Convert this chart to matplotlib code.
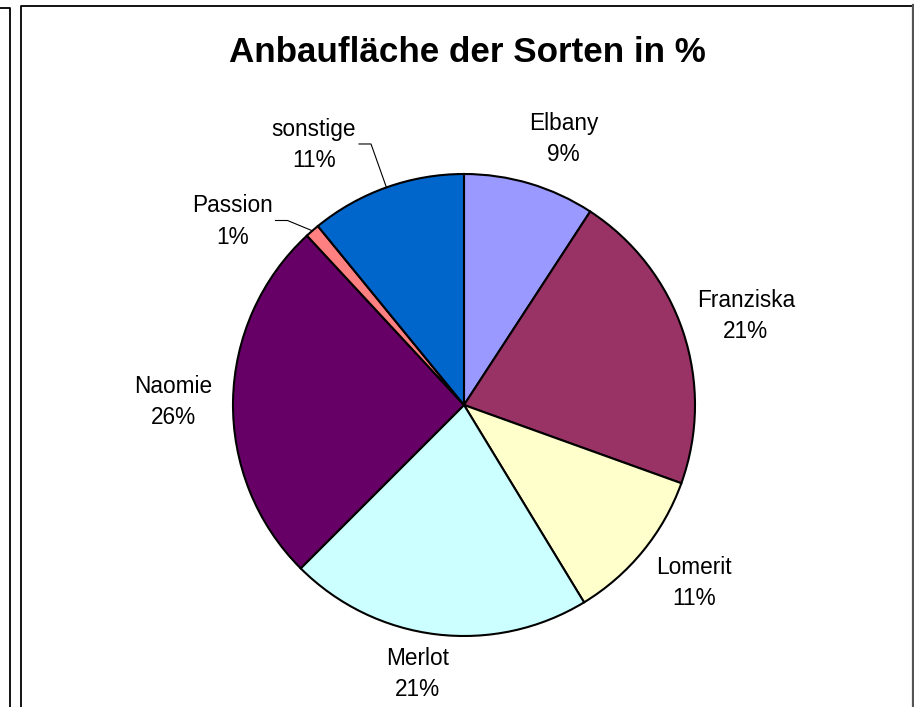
import numpy as np
import matplotlib
matplotlib.use("Agg")
import matplotlib.pyplot as plt
from matplotlib.lines import Line2D

plt.rcParams['font.family'] = ['Liberation Sans', 'DejaVu Sans']

# ---- data ----
categories = ["Elbany", "Franziska", "Lomerit", "Merlot", "Naomie", "Passion", "sonstige"]
values = [9.2, 21.3, 10.8, 21.2, 25.6, 1.0, 10.9]
colors = ["#9999FF", "#993366", "#FFFFCC", "#CCFFFF", "#660066", "#FF8080", "#0066CC"]
title = "Anbaufläche der Sorten in %"

# ---- layout ----
W, H = 914, 707
fig = plt.figure(figsize=(W / 100, H / 100), dpi=100)
ax = fig.add_axes([0, 0, 1, 1])

center = (464, 707 - 405)
radius = 231

wedges, _ = ax.pie(values, colors=colors, startangle=90, counterclock=False,
                   center=center, radius=radius, frame=True,
                   wedgeprops=dict(edgecolor='black', linewidth=1.5))
ax.set_xlim(0, W)
ax.set_ylim(0, H)
ax.set_aspect('equal')
ax.axis('off')

total = sum(values)
label_dist = [1.23, 1.28, 1.26, 1.18, 1.26, 1.28, 1.30]
label_shift = [-4, -1, 1.5, -3, 0.5, 10.6, 10.4]
leader = [False, False, False, False, False, True, True]

texts = []
for w, name, v, d, s in zip(wedges, categories, values, label_dist, label_shift):
    mid = np.deg2rad((w.theta1 + w.theta2) / 2 + s)
    x = center[0] + d * radius * np.cos(mid)
    y = center[1] + d * radius * np.sin(mid)
    t = ax.text(x, y, f"{name}\n{round(v / total * 100)}%", ha='center', va='center',
                multialignment='center', fontsize=16.3, linespacing=1.45, color='black')
    texts.append(t)

fig.canvas.draw()
renderer = fig.canvas.get_renderer()
inv = ax.transData.inverted()
for w, t, has_leader in zip(wedges, texts, leader):
    if not has_leader:
        continue
    mid = np.deg2rad((w.theta1 + w.theta2) / 2)
    ex = center[0] + radius * np.cos(mid)
    ey = center[1] + radius * np.sin(mid)
    bb = t.get_window_extent(renderer)
    (x0, y0), (x1, y1) = inv.transform([[bb.x0, bb.y0], [bb.x1, bb.y1]])
    ly = (y0 + y1) / 2 + 1
    sx = x1 + 3
    ax.plot([sx, sx + 12, ex], [ly, ly, ey], color='black', linewidth=0.8)

fig.text(467 / W, 1 - 62 / H, title, ha='center', va='baseline',
         fontsize=25.2, fontweight='bold', color='black')

# frames
def fl(xs, ys, **kw):
    fig.add_artist(Line2D([x / W for x in xs], [1 - y / H for y in ys], **kw))

fl([0, 9.5, 9.5], [8, 8, H + 5], color='black', linewidth=1.3)
fl([20.5, 20.5, 912], [H + 5, 5.5, 5.5], color='black', linewidth=1.3)
fl([912.8, 912.8], [5, H + 5], color='#555555', linewidth=1.6)

fig.savefig("out.png", dpi=100)
